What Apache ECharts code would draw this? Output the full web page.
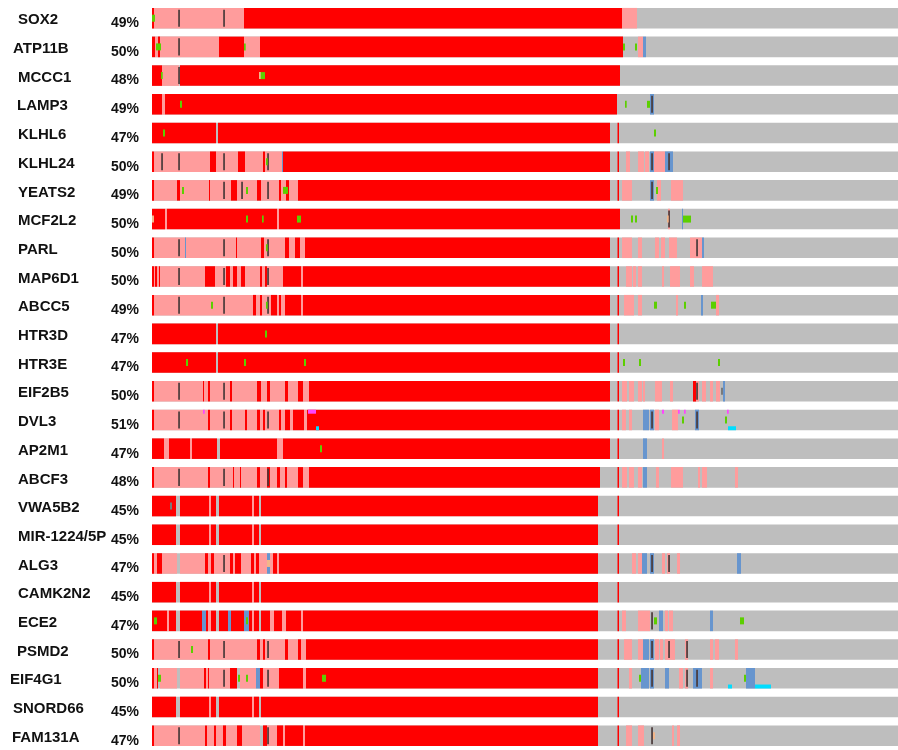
<!DOCTYPE html>
<html>
<head>
<meta charset="utf-8">
<script src="https://cdn.jsdelivr.net/npm/echarts@6/dist/echarts.min.js"></script>
<style>
  html, body { margin: 0; padding: 0; background: #fff; }
  #chart { width: 898px; height: 750px; }
</style>
</head>
<body>
<div id="chart"></div>
<script>
// Genes (rows, top to bottom) and the share of samples altered in each
const genes = ['SOX2','ATP11B','MCCC1','LAMP3','KLHL6','KLHL24','YEATS2','MCF2L2','PARL','MAP6D1',
  'ABCC5','HTR3D','HTR3E','EIF2B5','DVL3','AP2M1','ABCF3','VWA5B2','MIR-1224/5P','ALG3',
  'CAMK2N2','ECE2','PSMD2','EIF4G1','SNORD66','FAM131A'];
const altered = [49,50,48,49,47,50,49,50,50,50,49,47,47,50,51,47,48,45,45,47,45,47,50,50,45,47];

// Sample axis span (ordered samples, left to right)
const sampleCount = 746;

// Amplification runs per gene: [firstSample, lastSample]
const ampRuns = [
  [[0,2],[92,470]],
  [[0,3],[6,8],[67,92],[108,471]],
  [[0,10],[28,468]],
  [[0,10],[13,465]],
  [[0,64],[66,458],[465.5,467]],
  [[0,2],[58,64],[86,93],[111,113],[131,458],[465.5,467]],
  [[0,2],[25,28],[57,58],[79,85],[105,109],[127,129],[134,137],[146,458],[465.5,467]],
  [[0,13],[15,125],[127,468]],
  [[0,2],[84,85],[109,112],[133,137],[143,148],[153,458],[465.5,467]],
  [[0,2],[3,5],[7,8],[53,63],[74,78],[81,85],[89,93],[108,110],[113,115],[131,149],[151,458],[465.5,467]],
  [[0,2],[101,104],[108,110],[119,125],[127,129],[133,149],[151,458],[465.5,467]],
  [[0,64],[66,458],[465.5,467]],
  [[0,64],[66,458],[465.5,467]],
  [[0,2],[51,52],[56,58],[78,80],[105,109],[115,118],[133,136],[146,151],[157,458],[465.5,467],[541,544]],
  [[0,2],[56,58],[78,80],[93,95],[105,108],[111,113],[127,129],[133,138],[141,152],[155,458],[465.5,467]],
  [[0,12],[17,38],[40,65],[68,125],[131,458],[465.5,467]],
  [[0,2],[56,58],[81,82],[88,89],[105,108],[115,118],[125,128],[133,135],[146,151],[157,448],[465.5,467]],
  [[0,24],[28,57],[59,64],[67,100],[102,107],[109,446],[465.5,467]],
  [[0,24],[28,57],[59,64],[67,100],[102,107],[109,446],[465.5,467]],
  [[0,2],[5,10],[53,56],[59,62],[78,81],[83,89],[99,102],[104,107],[121,125],[127,446],[465.5,467]],
  [[0,24],[28,57],[59,64],[67,100],[102,107],[109,446],[465.5,467]],
  [[0,15],[17,24],[28,50],[54,56],[59,64],[67,76],[79,92],[97,100],[102,107],[109,118],[122,130],[134,149],[151,446],[465.5,467]],
  [[0,2],[56,58],[105,108],[111,113],[133,136],[146,149],[154,446],[465.5,467]],
  [[0,2],[5,6],[52,54],[56,57],[78,85],[108,111],[127,151],[154,446],[465.5,467]],
  [[0,24],[28,57],[59,64],[67,100],[102,107],[109,446],[465.5,467]],
  [[0,2],[53,55],[62,64],[71,74],[85,90],[111,115],[125,131],[133,151],[153,446],[465.5,467]]
];

// Gain runs per gene
const gainRuns = [
  [[2,92],[470,485]],
  [[3,6],[8,67],[92,108],[486,491]],
  [[10,27]],
  [[10,13]],
  [],
  [[2,58],[64,86],[93,111],[113,130],[474,478],[486,492],[493,497],[502,513]],
  [[2,25],[28,57],[58,79],[85,105],[109,127],[129,134],[137,146],[470,480],[505,509],[519,531]],
  [[13,15],[125,127],[516,518]],
  [[2,84],[85,109],[112,133],[137,143],[148,153],[470,480],[486,490],[503,507],[509,513],[517,525],[538,550]],
  [[2,3],[5,7],[8,53],[63,74],[78,81],[85,89],[93,108],[110,113],[115,131],[149,151],[474,480],[481,484],[486,490],[510,512],[518,528],[538,542],[550,561]],
  [[2,101],[104,108],[110,119],[125,127],[129,133],[149,151],[472,482],[486,490],[524,526],[564,567]],
  [],
  [],
  [[2,51],[52,56],[58,78],[80,105],[109,115],[118,133],[136,146],[151,157],[470,475],[477,482],[486,490],[491,493],[503,510],[518,521],[544,547],[550,554],[558,561],[564,568]],
  [[2,56],[58,78],[80,93],[95,105],[108,111],[113,127],[129,133],[138,141],[152,155],[470,474],[477,480],[503,507],[520,526]],
  [[12,17],[38,40],[125,131],[510,512]],
  [[2,56],[58,81],[82,88],[89,105],[108,115],[118,125],[128,133],[135,146],[151,157],[470,475],[477,482],[486,490],[504,507],[519,531],[546,548],[550,555],[583,586]],
  [[57,59],[100,102]],
  [[57,59],[100,102]],
  [[2,5],[10,25],[28,53],[56,59],[62,78],[81,83],[89,99],[102,104],[107,115],[118,121],[125,127],[480,484],[486,490],[510,513],[515,518],[525,528]],
  [[57,59],[100,102]],
  [[15,17],[56,59],[100,102],[118,122],[130,134],[149,151],[470,474],[486,491],[491,498],[513,516],[517,521]],
  [[2,56],[58,105],[108,111],[113,133],[136,146],[149,154],[472,480],[486,491],[503,507],[508,511],[513,523],[533,536],[558,561],[563,567],[583,586]],
  [[2,5],[8,25],[28,52],[54,56],[57,78],[88,104],[111,127],[151,154],[477,480],[527,531],[533,536],[558,561]],
  [[57,59],[100,102]],
  [[2,53],[55,62],[64,71],[74,85],[90,108],[115,125],[131,133],[151,153],[474,480],[486,492],[520,522],[525,528]]
];

// Deletion runs per gene
const delRuns = [
  [], [[491,494]], [], [[498,502]], [],
  [[130,131],[498,502],[513,521]],
  [[498,502]], [[530,531]], [[33,34],[550,552]], [],
  [[549,551]], [], [], [[571,573]],
  [[491,497],[498,502],[543,547]],
  [[491,495]], [[491,495]], [], [],
  [[115,118],[490,495],[498,502],[585,589]],
  [],
  [[50,54],[76,79],[92,97],[507,511],[558,561]],
  [[491,497],[498,502]],
  [[104,108],[489,497],[498,502],[513,517],[541,550],[594,603]],
  [], []
];

// Truncating hits per gene: sample positions
const truncHits = [
  [27,72], [27], [27], [500], [],
  [10,27,72,116,500,517],
  [72,90,116,500], [517], [27,72,116,545], [27,72,116],
  [27,72,116], [], [], [27,72,545],
  [27,72,116,500,545],
  [], [27,72,116], [], [],
  [72,500,517], [],
  [500], [27,72,116,500,517,535],
  [72,116,500,535,545], [], [27,116,500]
];

// Missense runs per gene
const missenseRuns = [
  [[0,3]], [[4,9],[92,93],[471,473],[483,485]], [[9,10],[108,113]], [[28,30],[473,474],[495,498]],
  [[11,13],[502,504]], [[114,115]], [[30,32],[94,96],[131,136],[504,506]],
  [[94,96],[110,111],[145,149],[479,481],[483,485],[531,539]],
  [[114,115]], [], [[59,61],[114,115],[502,505],[532,534],[559,564]],
  [[113,115]], [[34,36],[92,94],[152,154],[471,473],[487,489],[566,568]],
  [], [[530,532],[573,575]], [[168,170]], [], [], [], [], [],
  [[2,5],[94,96],[502,505],[588,592]], [[39,41]],
  [[6,9],[86,88],[94,96],[170,174],[487,489],[592,594]], [], []
];

// In-frame / other small hits per gene
const otherRuns = [
  [], [], [[107,108]], [], [], [], [], [[0,2],[515,516]], [], [], [], [], [], [], [], [], [], [], [],
  [[115,118]], [], [], [], [], [], [[501,503]]
];
const grayHits = [
  [], [], [], [], [], [], [], [], [], [], [], [], [], [[569,571]], [], [], [], [[18,20]], [], [], [], [], [], [], [], []
];
// Up-regulation (top strip) and down-regulation (bottom strip) runs
const upRuns = [
  [], [], [], [], [], [], [], [], [], [], [], [], [], [],
  [[51,52],[156,164],[510,512],[526,527],[532,533],[575,576]],
  [], [], [], [], [], [], [], [], [], [], []
];
const downRuns = [
  [], [], [], [], [], [], [], [], [], [], [], [], [], [],
  [[164,167],[576,584]],
  [], [], [], [], [], [], [], [], [[576,580],[603,619]], [], []
];

// Label indents (px) for the gene column
const indentOf = { 'ATP11B': 'b', 'SNORD66': 'b', 'EIF4G1': 'c', 'FAM131A': 'd', 'PSMD2': 'e', 'LAMP3': 'e' };

function flatten(runs) {
  const out = [];
  runs.forEach((list, row) => list.forEach(r => out.push([row, r[0], r[1]])));
  return out;
}
function flattenHits(hits) {
  const out = [];
  hits.forEach((list, row) => list.forEach(p => out.push([row, p, p])));
  return out;
}

const BAR = 0.716;
function painter(color, mode) {
  return function (params, api) {
    const row = api.value(0), s = api.value(1), e = api.value(2);
    const a = api.coord([s, row]);
    const b = api.coord([e, row]);
    const band = api.size([0, 1])[1];
    const H = band * BAR;
    let x = a[0], w = Math.max(b[0] - a[0], 1), y = a[1] - H / 2, h = H;
    if (mode === 'line') { x = a[0] - 0.8; w = 1.7; h = H - 3.5; y = a[1] - h / 2; }
    else if (mode === 'mid') { h = 7; y = a[1] - h / 2; w = Math.max(b[0] - a[0], 1.7); }
    else if (mode === 'top') { h = 4; y = a[1] - H / 2; w = Math.max(b[0] - a[0], 1.7); }
    else if (mode === 'bottom') { h = 4; y = a[1] + H / 2 - 4; w = Math.max(b[0] - a[0], 1.7); }
    return { type: 'rect', shape: { x: x, y: y, width: w, height: h }, style: { fill: color } };
  };
}
function layer(name, data, color, mode) {
  return {
    type: 'custom', name: name, data: data, renderItem: painter(color, mode),
    encode: { x: [1, 2], y: 0 }, silent: true, clip: false
  };
}

const background = genes.map((g, i) => [i, 0, sampleCount]);

const labelFont = 'Liberation Sans, Arial, sans-serif';
const gl = (pad) => ({ fontFamily: labelFont, fontWeight: 'bold', fontSize: 15, color: '#111', padding: [4, 0, 0, pad] });

const chart = echarts.init(document.getElementById('chart'), null, { renderer: 'canvas' });
chart.setOption({
  animation: false,
  backgroundColor: '#ffffff',
  grid: { left: 152, right: 0, top: 3.85, height: 751.4 },
  xAxis: { type: 'value', min: 0, max: sampleCount, show: false },
  yAxis: [
    {
      type: 'category', data: genes, inverse: true,
      axisLine: { show: false }, axisTick: { show: false }, splitLine: { show: false },
      axisLabel: {
        margin: 142, align: 'left', interval: 0,
        formatter: (v) => '{' + (indentOf[v] || 'a') + '|' + v + '}',
        rich: { a: gl(8), b: gl(3), c: gl(0), d: gl(2), e: gl(7) }
      }
    },
    {
      type: 'category', data: genes, inverse: true, position: 'left',
      axisLine: { show: false }, axisTick: { show: false }, splitLine: { show: false },
      axisLabel: {
        margin: 41, align: 'left', interval: 0,
        formatter: (v, i) => '{p|' + altered[i] + '%}',
        rich: { p: { fontFamily: labelFont, fontWeight: 'bold', fontSize: 14, color: '#111', padding: [10, 0, 0, 0] } }
      }
    }
  ],
  series: [
    layer('none', background, '#BEBEBE', 'full'),
    layer('amp', flatten(ampRuns), '#FF0000', 'full'),
    layer('gain', flatten(gainRuns), '#FF9C9C', 'full'),
    layer('del', flatten(delRuns), '#6795CE', 'full'),
    layer('trunc', flattenHits(truncHits), '#4A3A3A', 'line'),
    layer('missense', flatten(missenseRuns), '#5CCF00', 'mid'),
    layer('other', flatten(otherRuns), '#F2B68A', 'mid'),
    layer('gray', flatten(grayHits), '#7A7A7A', 'mid'),
    layer('up', flatten(upRuns), '#FF44FF', 'top'),
    layer('down', flatten(downRuns), '#00DDFF', 'bottom')
  ]
});
</script>
</body>
</html>
